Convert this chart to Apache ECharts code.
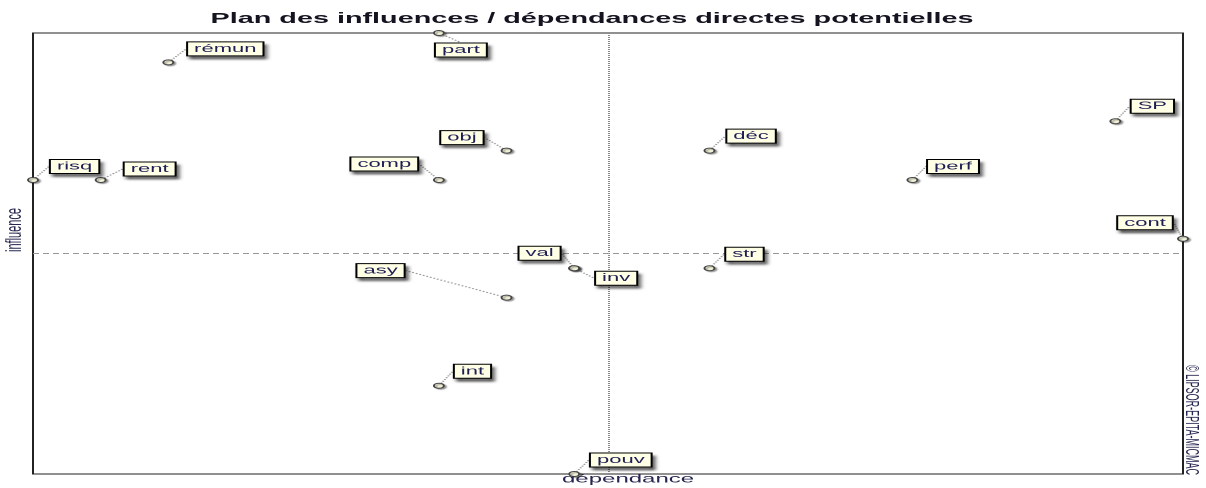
<!DOCTYPE html>
<html><head><meta charset="utf-8">
<script src="https://cdn.jsdelivr.net/npm/echarts@6/dist/echarts.min.js"></script>
<style>
html,body{margin:0;padding:0;background:#fff;overflow:hidden}
#wrap{width:1206px;height:488px;overflow:hidden;position:relative}
#chart{width:603px;height:488px;transform:scaleX(2);transform-origin:0 0}
</style>
</head><body><div id="wrap"><div id="chart"></div></div>
<script>
// ---- data ----
const variables  = ['rémun','part','obj','comp','risq','rent','déc','SP','perf','cont','val','inv','str','asy','int','pouv'];
const dependence = [2, 6, 7, 6, 0, 1, 10, 16, 13, 17, 8, 8, 10, 7, 6, 8];
const influence  = [14, 15, 11, 10, 10, 10, 11, 12, 10, 8, 7, 7, 7, 6, 3, 0];
const meanDependence = 8.5;
const meanInfluence = 7.5;
const titleText = 'Plan des influences / dépendances directes potentielles';
const xAxisName = 'dépendance';
const yAxisName = 'influence';
const copyrightText = '© LIPSOR-EPITA-MICMAC';

// ---- layout: label displacement (px, chart space) ----
const labelShift = {
  'rémun':[28.5,-13.5], 'part':[11,17], 'obj':[-22.3,-13], 'comp':[-27.3,-16],
  'risq':[20.8,-13.5], 'rent':[24.5,-11], 'déc':[20.8,-14.5], 'SP':[18.5,-15],
  'perf':[20.3,-13.5], 'cont':[-19,-16], 'val':[-17.3,-15], 'inv':[21,10],
  'str':[17.5,-14], 'asy':[-63,-27], 'int':[16.8,-14.5], 'pouv':[23.3,-14]
};

const points = variables.map((n, i) => ({ name: n, value: [dependence[i], influence[i]] }));

const chart = echarts.init(document.getElementById('chart'), null, { renderer: 'canvas', devicePixelRatio: 2 });
const FONT = '"Liberation Sans", Arial, sans-serif';

chart.setOption({
  animation: false,
  backgroundColor: '#fff',
  title: {
    text: titleText,
    left: 291, top: 7, textAlign: 'center',
    textStyle: { fontFamily: FONT, fontSize: 14.4, fontWeight: 'bold', color: '#141420' }
  },
  grid: { left: 16.5, right: 11.5, top: 33, bottom: 14, show: true, borderColor: '#222', borderWidth: 1 },
  xAxis: { type: 'value', min: 0, max: 17, axisLine: { show: false }, axisTick: { show: false },
           axisLabel: { show: false }, splitLine: { show: false } },
  yAxis: { type: 'value', min: 0, max: 15, axisLine: { show: false }, axisTick: { show: false },
           axisLabel: { show: false }, splitLine: { show: false } },
  graphic: [
    { type: 'text', left: 281, top: 473, style: { text: xAxisName, fontFamily: FONT, fontSize: 12, fill: '#25254f' } },
    { type: 'text', x: 2, y: 252, rotation: Math.PI / 2, style: { text: yAxisName, fontFamily: FONT, fontSize: 11, fill: '#25254f' } },
    { type: 'text', x: 600, y: 365, rotation: -Math.PI / 2, style: { text: copyrightText, fontFamily: FONT, fontSize: 9, fill: '#25254f' } }
  ],
  series: [{
    type: 'scatter',
    data: [],
    z: 1,
    markLine: {
      z: 1,
      silent: true, symbol: 'none', label: { show: false }, animation: false,
      data: [
        { xAxis: meanDependence, lineStyle: { color: '#888', width: 1, type: 'dotted' } },
        { yAxis: meanInfluence, lineStyle: { color: '#999', width: 1, type: [3, 2] } }
      ]
    }
  }, {
    type: 'scatter',
    data: points,
    clip: false,
    z: 6,
    symbol: 'circle',
    symbolSize: 5,
    itemStyle: { color: '#f2f2da', borderColor: '#444', borderWidth: 1, opacity: 1,
                 shadowColor: 'rgba(0,0,0,0.35)', shadowBlur: 1, shadowOffsetX: 1, shadowOffsetY: 1 },
    label: {
      show: true, position: 'inside', formatter: '{b}',
      fontFamily: FONT, fontSize: 11, lineHeight: 12, color: '#1e1e55',
      backgroundColor: '#ffffe6', borderColor: '#000', borderWidth: 1,
      padding: [1, 3, 0, 3],
      shadowColor: 'rgba(0,0,0,0.5)', shadowBlur: 2, shadowOffsetX: 1.5, shadowOffsetY: 3
    },
    labelLayout: function (p) {
      const s = labelShift[variables[p.dataIndex]];
      return { dx: s[0], dy: s[1] };
    },
    labelLine: { show: true, lineStyle: { color: '#999', width: 1, type: 'dotted' } }
  }]
});
</script></body></html>
